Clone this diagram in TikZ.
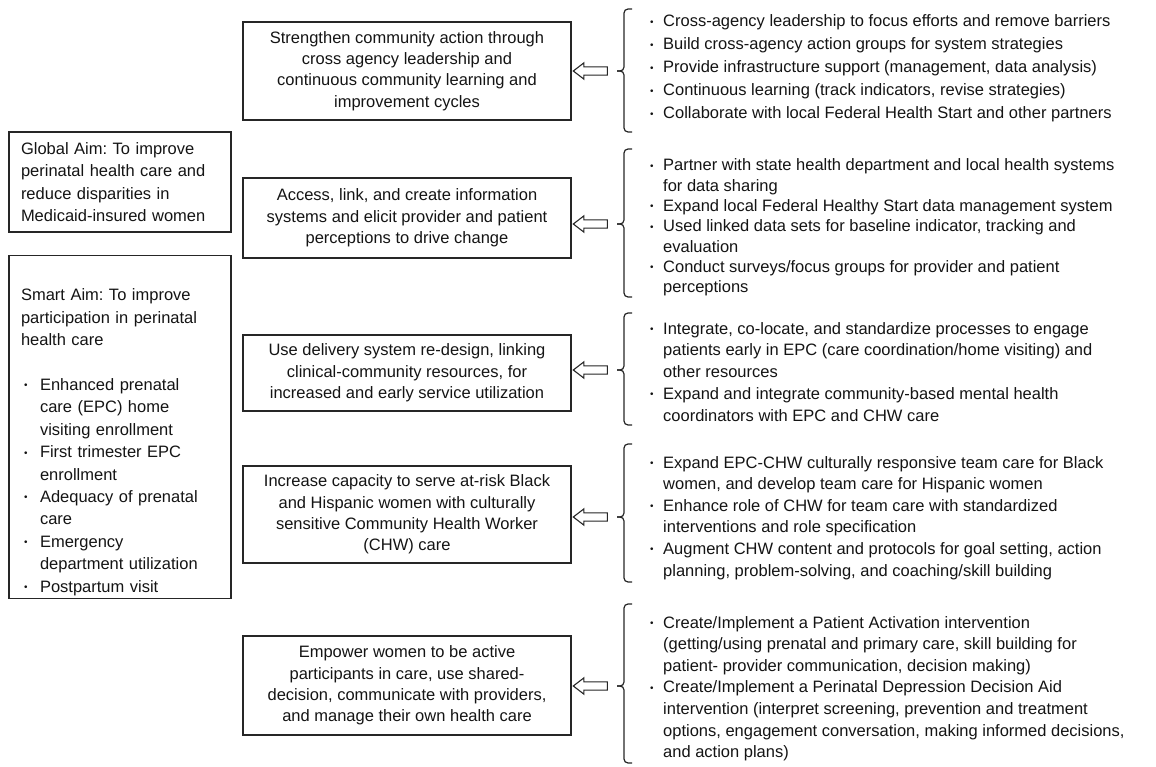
\documentclass[tikz,border=0pt]{standalone}
\usepackage{fontspec}
\setmainfont{Liberation Sans}
\usetikzlibrary{shapes.arrows}
\frenchspacing
\newcommand{\sbul}{\raisebox{1.6pt}{\scalebox{0.6}{\textbullet}}}
\newcommand{\itm}[1][16pt]{\makebox[#1][l]{\hspace{3pt}\sbul}}
\newcommand{\ind}[1][16pt]{\makebox[#1]{}}

\begin{document}
\begin{tikzpicture}[x=1pt, y=-1pt,
every node/.style={text=black!92},
aimbox/.style={draw=black!85, line width=1.1pt, align=left, text width=198pt, inner xsep=12pt, font=\fontsize{16.5}{22.4}\selectfont},
midbox/.style={draw=black!85, line width=1.1pt, align=center, minimum width=328pt, inner sep=4pt, font=\fontsize{16.5}{21.4}\selectfont},
actlist/.style={anchor=base west, inner sep=0pt, font=\fontsize{16.5}{#1}\selectfont},
actlist/.default=21.6,
hollowarrow/.style={single arrow, draw=black!85, line width=1.1pt, fill=white, text height=3.6pt, text depth=3.6pt, minimum height=34pt, single arrow head extend=4pt, single arrow tip angle=75, shape border rotate=180, inner sep=0pt},
bracket/.style={draw=black!85, line width=1.2pt, rounded corners=4pt}]
\useasboundingbox (0,0) rectangle (1156,767);

% aims
\node[aimbox, minimum height=100pt] (global) at (120,182) {Global Aim: To improve\\perinatal health care and\\reduce disparities in\\Medicaid-insured women};
\node[aimbox, minimum height=342pt] (smart) at (120,427) {\mbox{}\\[20pt]
Smart Aim: To improve\\participation in perinatal\\health care\\\mbox{}\\
\itm[19pt]Enhanced prenatal\\\ind[19pt]care (EPC) home\\\ind[19pt]visiting enrollment\\
\itm[19pt]First trimester EPC\\\ind[19pt]enrollment\\
\itm[19pt]Adequacy of prenatal\\\ind[19pt]care\\
\itm[19pt]Emergency\\\ind[19pt]department utilization\\
\itm[19pt]Postpartum visit};

% primary drivers
\node[midbox, minimum height=98pt] (b1) at (407,71) {Strengthen community action through\\cross agency leadership and\\continuous community learning and\\improvement cycles};
\node[midbox, minimum height=80pt] (b2) at (407,218) {Access, link, and create information\\systems and elicit provider and patient\\perceptions to drive change};
\node[midbox, minimum height=76pt] (b3) at (407,373) {Use delivery system re-design, linking\\clinical-community resources, for\\increased and early service utilization};
\node[midbox, minimum height=97pt] (b4) at (407,514.5) {Increase capacity to serve at-risk Black\\and Hispanic women with culturally\\sensitive Community Health Worker\\(CHW) care};
\node[midbox, minimum height=99pt] (b5) at (407,685.5) {Empower women to be active\\participants in care, use shared-\\decision, communicate with providers,\\and manage their own health care};

% arrows and brackets
\foreach \i/\ytop/\ymid/\ybot in {1/9/71/132, 2/149/224/297, 3/313/370/425, 4/444/517/582, 5/604/686/763}{
  \node[hollowarrow] (a\i) at (593,\ymid) {};
  \draw[bracket] (632,\ytop) -- (624,\ytop) -- (624,\ymid) -- (617,\ymid);
  \draw[bracket] (632,\ybot) -- (624,\ybot) -- (624,\ymid) -- (617,\ymid);
}

% secondary drivers
\node[actlist=23] (l1) at (647,27) {\begin{tabular}[t]{@{}l@{}}
\itm Cross-agency leadership to focus efforts and remove barriers\\
\itm Build cross-agency action groups for system strategies\\
\itm Provide infrastructure support (management, data analysis)\\
\itm Continuous learning (track indicators, revise strategies)\\
\itm Collaborate with local Federal Health Start and other partners
\end{tabular}};
\node[actlist=20.3] (l2) at (647,171) {\begin{tabular}[t]{@{}l@{}}
\itm Partner with state health department and local health systems\\
\ind for data sharing\\
\itm Expand local Federal Healthy Start data management system\\
\itm Used linked data sets for baseline indicator, tracking and\\
\ind evaluation\\
\itm Conduct surveys/focus groups for provider and patient\\
\ind perceptions
\end{tabular}};
\node[actlist=21.8] (l3) at (647,334) {\begin{tabular}[t]{@{}l@{}}
\itm Integrate, co-locate, and standardize processes to engage\\
\ind patients early in EPC (care coordination/home visiting) and\\
\ind other resources\\
\itm Expand and integrate community-based mental health\\
\ind coordinators with EPC and CHW care
\end{tabular}};
\node[actlist] (l4) at (647,468) {\begin{tabular}[t]{@{}l@{}}
\itm Expand EPC-CHW culturally responsive team care for Black\\
\ind women, and develop team care for Hispanic women\\
\itm Enhance role of CHW for team care with standardized\\
\ind interventions and role specification\\
\itm Augment CHW content and protocols for goal setting, action\\
\ind planning, problem-solving, and coaching/skill building
\end{tabular}};
\node[actlist] (l5) at (647,628) {\begin{tabular}[t]{@{}l@{}}
\itm Create/Implement a Patient Activation intervention\\
\ind (getting/using prenatal and primary care, skill building for\\
\ind patient- provider communication, decision making)\\
\itm Create/Implement a Perinatal Depression Decision Aid\\
\ind intervention (interpret screening, prevention and treatment\\
\ind options, engagement conversation, making informed decisions,\\
\ind and action plans)
\end{tabular}};
\end{tikzpicture}
\end{document}
